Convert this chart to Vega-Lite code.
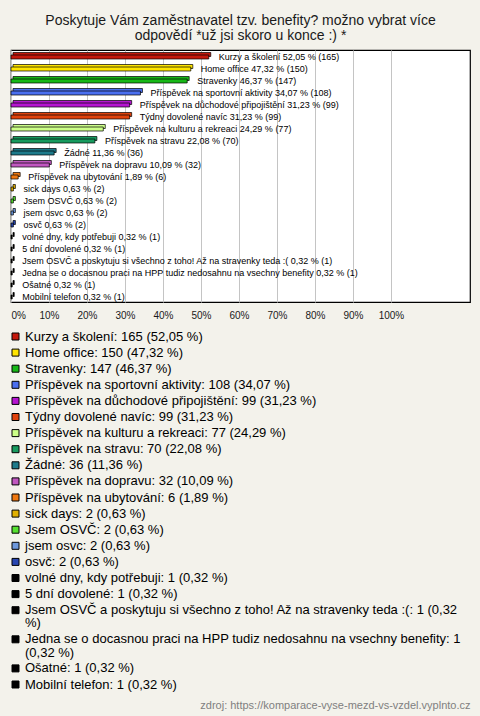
{
  "$schema": "https://vega.github.io/schema/vega-lite/v6.json",
  "width": 459,
  "height": 252,
  "autosize": {"type": "none"},
  "padding": {"left": 11, "top": 50, "right": 10, "bottom": 414},
  "background": "#f3f2eb",
  "title": {
    "text": ["Poskytuje Vám zaměstnavatel tzv. benefity? možno vybrat více", "odpovědí *už jsi skoro u konce :) *"],
    "font": "Liberation Sans",
    "fontSize": 14,
    "fontWeight": "normal",
    "color": "#1a1a1a",
    "anchor": "middle",
    "frame": "group",
    "offset": 7,
    "lineHeight": 15
  },
  "config": {
    "view": {"stroke": "#000000", "strokeWidth": 1.2, "fill": "#ffffff"},
    "font": "Liberation Sans"
  },
  "data": {
    "values": [
      {"name": "Kurzy a školení", "count": 165, "pct": 52.05},
      {"name": "Home office", "count": 150, "pct": 47.32},
      {"name": "Stravenky", "count": 147, "pct": 46.37},
      {"name": "Příspěvek na sportovní aktivity", "count": 108, "pct": 34.07},
      {"name": "Příspěvek na důchodové připojištění", "count": 99, "pct": 31.23},
      {"name": "Týdny dovolené navíc", "count": 99, "pct": 31.23},
      {"name": "Příspěvek na kulturu a rekreaci", "count": 77, "pct": 24.29},
      {"name": "Příspěvek na stravu", "count": 70, "pct": 22.08},
      {"name": "Žádné", "count": 36, "pct": 11.36},
      {"name": "Příspěvek na dopravu", "count": 32, "pct": 10.09},
      {"name": "Příspěvek na ubytování", "count": 6, "pct": 1.89},
      {"name": "sick days", "count": 2, "pct": 0.63},
      {"name": "Jsem OSVČ", "count": 2, "pct": 0.63},
      {"name": "jsem osvc", "count": 2, "pct": 0.63},
      {"name": "osvč", "count": 2, "pct": 0.63},
      {"name": "volné dny, kdy potřebuji", "count": 1, "pct": 0.32},
      {"name": "5 dní dovolené", "count": 1, "pct": 0.32},
      {"name": "Jsem OSVČ a poskytuju si všechno z toho! Až na stravenky teda :(", "count": 1, "pct": 0.32},
      {"name": "Jedna se o docasnou praci na HPP tudiz nedosahnu na vsechny benefity", "count": 1, "pct": 0.32},
      {"name": "Ošatné", "count": 1, "pct": 0.32},
      {"name": "Mobilní telefon", "count": 1, "pct": 0.32}
    ]
  },
  "transform": [
    {"calculate": "replace(format(datum.pct, '.2f'), '.', ',')", "as": "pctStr"},
    {"calculate": "datum.name + ' ' + datum.pctStr + ' % (' + datum.count + ')'", "as": "barLabel"},
    {"calculate": "datum.name + ': ' + datum.count + ' (' + datum.pctStr + ' %)'", "as": "legendLabel"}
  ],
  "encoding": {
    "y": {"field": "name", "type": "nominal", "sort": null, "axis": null, "scale": {"paddingInner": 0.5, "paddingOuter": 0.25}},
    "x": {
      "field": "pct",
      "type": "quantitative",
      "scale": {"domain": [0, 120.8], "nice": false, "zero": true},
      "axis": {
        "values": [0, 10, 20, 30, 40, 50, 60, 70, 80, 90, 100],
        "labelExpr": "datum.value + '%'",
        "labelFlush": true,
        "labelFontSize": 10,
        "labelColor": "#1a1a1a",
        "labelPadding": 8,
        "ticks": false,
        "domain": false,
        "grid": true,
        "gridColor": "#c4c4c4",
        "gridWidth": 1,
        "title": "zdroj: https://komparace-vyse-mezd-vs-vzdel.vyplnto.cz",
        "titleFontSize": 11,
        "titleFontWeight": "normal",
        "titleColor": "#808080",
        "titleAnchor": "end",
        "titleAlign": "right",
        "titleBaseline": "middle",
        "titleX": 459,
        "titleY": 403
      }
    }
  },
  "layer": [
    {
      "mark": {"type": "bar", "size": 4, "stroke": "#000000", "strokeWidth": 0.7, "xOffset": 2, "yOffset": -1.5},
      "encoding": {
        "color": {
          "field": "legendLabel", "type": "nominal", "sort": null,
          "scale": {"range": ["#c4180c","#ffe500","#17b817","#4a6ff0","#b514d0","#e0420c","#ccff88","#179a5e","#1d7a8a","#c057c0","#f07810","#e0b000","#55e030","#6d98dc","#2846b0","#000000","#000000","#000000","#000000","#000000","#000000"]},
          "legend": {
            "orient": "none", "legendX": -2, "legendY": 280, "direction": "vertical", "columns": 1,
            "title": null, "padding": 0, "rowPadding": 2.1,
            "symbolType": "square", "symbolSize": 49, "symbolStrokeColor": "#000000", "symbolStrokeWidth": 1, "symbolOpacity": 1,
            "labelFontSize": 13, "labelColor": "#000000", "labelLimit": 0, "labelOffset": 3,
            "labelExpr": "length(datum.label) > 75 ? [slice(datum.label, 0, lastindexof(slice(datum.label, 0, 75), ' ')), slice(datum.label, lastindexof(slice(datum.label, 0, 75), ' ') + 1)] : datum.label",
            "encode": {"labels": {"update": {"lineHeight": {"value": 13.3}}}}
          }
        }
      }
    },
    {
      "mark": {"type": "bar", "size": 4, "stroke": "#000000", "strokeWidth": 0.7, "yOffset": 1},
      "encoding": {
        "color": {
          "field": "legendLabel", "type": "nominal", "sort": null,
          "scale": {"range": ["#c4180c","#ffe500","#17b817","#4a6ff0","#b514d0","#e0420c","#ccff88","#179a5e","#1d7a8a","#c057c0","#f07810","#e0b000","#55e030","#6d98dc","#2846b0","#000000","#000000","#000000","#000000","#000000","#000000"]},
          "legend": {
            "orient": "none", "legendX": -2, "legendY": 280, "direction": "vertical", "columns": 1,
            "title": null, "padding": 0, "rowPadding": 2.1,
            "symbolType": "square", "symbolSize": 49, "symbolStrokeColor": "#000000", "symbolStrokeWidth": 1, "symbolOpacity": 1,
            "labelFontSize": 13, "labelColor": "#000000", "labelLimit": 0, "labelOffset": 3,
            "labelExpr": "length(datum.label) > 75 ? [slice(datum.label, 0, lastindexof(slice(datum.label, 0, 75), ' ')), slice(datum.label, lastindexof(slice(datum.label, 0, 75), ' ') + 1)] : datum.label",
            "encode": {"labels": {"update": {"lineHeight": {"value": 13.3}}}}
          }
        }
      }
    },
    {
      "mark": {"type": "text", "align": "left", "baseline": "middle", "dx": 10, "dy": 1, "fontSize": 9, "color": "#000000"},
      "encoding": {"text": {"field": "barLabel"}}
    }
  ]
}
